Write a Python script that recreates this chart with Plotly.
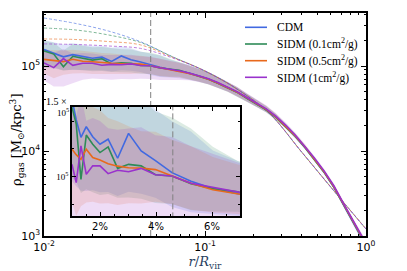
import plotly.graph_objects as go

# ---------------- data ----------------
r = [0.0100, 0.0115, 0.0132, 0.0151, 0.0174, 0.0200, 0.0229, 0.0263, 0.0302, 0.0347,
     0.0398, 0.0457, 0.0525, 0.0603, 0.0692, 0.0794, 0.0912, 0.105, 0.120, 0.138,
     0.158, 0.182, 0.209, 0.240, 0.275, 0.316, 0.363, 0.417, 0.479, 0.550,
     0.631, 0.724, 0.832, 0.955]

rho_cdm = [1.56e5, 1.41e5, 1.283e5, 1.36e5, 1.288e5, 1.234e5, 1.27e5, 1.133e5, 1.312e5, 1.186e5,
           1.116e5, 1.029e5, 0.967e5, 0.915e5, 0.877e5, 8.26e4, 7.66e4, 7.03e4, 6.31e4, 5.62e4,
           4.93e4, 4.19e4, 3.59e4, 3.07e4, 2.51e4, 1.97e4, 1.50e4, 1.11e4, 7.96e3, 5.61e3,
           3.76e3, 2.32e3, 1.43e3, 0.90e3]
rho_s01 = [1.50e5, 1.38e5, 0.98e5, 1.30e5, 1.234e5, 1.174e5, 1.215e5, 1.06e5, 1.089e5, 1.078e5,
           1.014e5, 1.005e5, 0.949e5, 0.914e5, 0.891e5, 8.20e4, 7.60e4, 6.98e4, 6.27e4, 5.60e4,
           4.92e4, 4.18e4, 3.58e4, 3.06e4, 2.50e4, 1.96e4, 1.50e4, 1.11e4, 7.98e3, 5.64e3,
           3.79e3, 2.35e3, 1.46e3, 0.92e3]
rho_s05 = [1.198e5, 1.159e5, 1.125e5, 1.198e5, 1.138e5, 1.120e5, 1.094e5, 1.076e5, 1.065e5, 1.062e5,
           1.051e5, 1.005e5, 0.953e5, 0.906e5, 0.871e5, 8.18e4, 7.62e4, 7.00e4, 6.30e4, 5.63e4,
           4.95e4, 4.21e4, 3.61e4, 3.09e4, 2.53e4, 1.98e4, 1.51e4, 1.12e4, 8.03e3, 5.68e3,
           3.82e3, 2.37e3, 1.47e3, 0.93e3]
rho_s1 = [1.089e5, 0.957e5, 1.222e5, 1.017e5, 1.078e5, 1.078e5, 1.022e5, 1.046e5, 1.036e5, 1.060e5,
          1.014e5, 1.005e5, 0.953e5, 0.920e5, 0.880e5, 8.28e4, 7.70e4, 7.08e4, 6.38e4, 5.70e4,
          5.00e4, 4.26e4, 3.66e4, 3.13e4, 2.57e4, 2.02e4, 1.54e4, 1.14e4, 8.20e3, 5.80e3,
          3.90e3, 2.42e3, 1.50e3, 0.95e3]

# relative scatter (upper / lower factors) of each model
hi_cdm = [1.30, 1.34, 1.40, 1.36, 1.38, 1.40, 1.36, 1.45, 1.30, 1.36, 1.33, 1.36, 1.37, 1.30, 1.27,
          1.25, 1.23, 1.21, 1.19, 1.17, 1.15, 1.13, 1.11, 1.10, 1.09, 1.08, 1.07, 1.06, 1.06, 1.05,
          1.05, 1.05, 1.06, 1.08]
lo_cdm = [0.62, 0.66, 0.70, 0.66, 0.70, 0.72, 0.70, 0.76, 0.68, 0.74, 0.76, 0.76, 0.77, 0.80, 0.82,
          0.84, 0.86, 0.87, 0.88, 0.89, 0.90, 0.91, 0.92, 0.93, 0.93, 0.94, 0.94, 0.95, 0.95, 0.95,
          0.95, 0.95, 0.94, 0.92]
hi_s01 = [1.32, 1.36, 1.55, 1.40, 1.40, 1.42, 1.38, 1.52, 1.45, 1.45, 1.45, 1.42, 1.42, 1.33, 1.25,
          1.24, 1.22, 1.20, 1.18, 1.16, 1.14, 1.12, 1.11, 1.10, 1.09, 1.08, 1.07, 1.06, 1.06, 1.05,
          1.05, 1.05, 1.06, 1.08]
lo_s01 = [0.66, 0.70, 0.90, 0.70, 0.72, 0.74, 0.72, 0.80, 0.78, 0.78, 0.80, 0.80, 0.80, 0.82, 0.84,
          0.85, 0.86, 0.87, 0.88, 0.89, 0.90, 0.91, 0.92, 0.93, 0.93, 0.94, 0.94, 0.95, 0.95, 0.95,
          0.95, 0.95, 0.94, 0.92]
hi_s05 = [1.30, 1.32, 1.35, 1.30, 1.32, 1.32, 1.30, 1.30, 1.28, 1.25, 1.26, 1.26, 1.28, 1.26, 1.25,
          1.24, 1.22, 1.20, 1.18, 1.16, 1.14, 1.12, 1.11, 1.10, 1.09, 1.08, 1.07, 1.06, 1.06, 1.05,
          1.05, 1.05, 1.06, 1.08]
lo_s05 = [0.68, 0.62, 0.70, 0.68, 0.72, 0.72, 0.74, 0.74, 0.76, 0.76, 0.78, 0.80, 0.80, 0.82, 0.84,
          0.85, 0.86, 0.87, 0.88, 0.89, 0.90, 0.91, 0.92, 0.93, 0.93, 0.94, 0.94, 0.95, 0.95, 0.95,
          0.95, 0.95, 0.94, 0.92]
hi_s1 = [1.40, 1.50, 1.30, 1.38, 1.32, 1.30, 1.32, 1.28, 1.30, 1.28, 1.28, 1.28, 1.28, 1.26, 1.24,
         1.23, 1.21, 1.19, 1.17, 1.15, 1.14, 1.12, 1.11, 1.10, 1.09, 1.08, 1.07, 1.07, 1.06, 1.06,
         1.06, 1.06, 1.07, 1.09]
lo_s1 = [0.62, 0.60, 0.47, 0.62, 0.64, 0.66, 0.68, 0.66, 0.68, 0.66, 0.70, 0.70, 0.72, 0.74, 0.78,
         0.82, 0.84, 0.86, 0.87, 0.88, 0.89, 0.90, 0.91, 0.92, 0.93, 0.93, 0.94, 0.94, 0.95, 0.95,
         0.95, 0.95, 0.94, 0.92]

# fitted (dotted) profiles
r_fit = [0.01, 0.0158, 0.0251, 0.0398, 0.0631, 0.1, 0.158, 0.251, 0.398, 0.631, 1.0]
fit_cdm = [3.67e5, 3.16e5, 2.58e5, 1.93e5, 1.28e5, 8.73e4, 5.36e4, 2.77e4, 9.75e3, 3.41e3, 1.21e3]
fit_s01 = [2.80e5, 2.65e5, 2.32e5, 1.89e5, 1.28e5, 8.73e4, 5.36e4, 2.77e4, 9.75e3, 3.41e3, 1.21e3]
fit_s05 = [2.08e5, 2.05e5, 1.94e5, 1.77e5, 1.26e5, 8.73e4, 5.36e4, 2.77e4, 9.75e3, 3.41e3, 1.21e3]
fit_s1 = [1.82e5, 1.79e5, 1.72e5, 1.61e5, 1.24e5, 8.73e4, 5.36e4, 2.77e4, 9.75e3, 3.41e3, 1.21e3]

r_mark = 0.046

labels = ["CDM", "SIDM (0.1cm<sup>2</sup>/g)", "SIDM (0.5cm<sup>2</sup>/g)", "SIDM (1cm<sup>2</sup>/g)"]
colors = ["#4169e1", "#2e8b57", "#e8691c", "#9932cc"]
fills = ["rgba(65,105,225,0.17)", "rgba(46,139,87,0.17)", "rgba(232,105,28,0.15)", "rgba(153,50,204,0.17)"]

series = [rho_cdm, rho_s01, rho_s05, rho_s1]
his = [hi_cdm, hi_s01, hi_s05, hi_s1]
los = [lo_cdm, lo_s01, lo_s05, lo_s1]
fits = [fit_cdm, fit_s01, fit_s05, fit_s1]

# ---------------- figure ----------------
OFF = 8                      # page body margin
W, H = 407 - OFF, 271 - OFF
L, R, T, B = 44, 366, 13, 236   # plot area in screenshot pixels
pw, ph = R - L, B - T

def px(x):
    return (x - L) / pw

def py(y):
    return (B - y) / ph

# inset box in screenshot pixels
IL, IR, IT, IB = 72, 240, 107, 216
y_main_top = 10 ** (3 + (B - T) / 85)
y_inset_top = 10 ** (3 + (B - IT) / 85)
y_inset_bot = 10 ** (3 + (B - IB) / 85)

fig = go.Figure()

for sub in [("x", "y"), ("x2", "y2")]:
    xa, ya = sub
    for vals, hi, lo, fc in zip(series, his, los, fills):
        up = [v * h for v, h in zip(vals, hi)]
        dn = [v * l for v, l in zip(vals, lo)]
        fig.add_trace(go.Scatter(x=r + r[::-1], y=up + dn[::-1], fill="toself",
                                 fillcolor=fc, line=dict(width=0), mode="lines",
                                 hoverinfo="skip", showlegend=False, xaxis=xa, yaxis=ya))
    if xa == "x":
        for fv, c in zip(fits, colors):
            fig.add_trace(go.Scatter(x=r_fit, y=fv, mode="lines", line=dict(color=c, width=1, dash="3px,2px", shape="spline"),
                                     opacity=0.6, showlegend=False, xaxis=xa, yaxis=ya))
    for vals, c in zip(series, colors):
        fig.add_trace(go.Scatter(x=r, y=vals, mode="lines", line=dict(color=c, width=1.6),
                                 showlegend=False, xaxis=xa, yaxis=ya))
    if xa == "x":
        # main marker line: hidden behind the inset
        for seg in ([1e3, y_inset_bot], [y_inset_top, y_main_top * 1.05]):
            fig.add_trace(go.Scatter(x=[r_mark, r_mark], y=seg, mode="lines",
                                     line=dict(color="#808080", width=1, dash="6px,3px"),
                                     showlegend=False, xaxis=xa, yaxis=ya))
    else:
        fig.add_trace(go.Scatter(x=[r_mark, r_mark], y=[0.7e5, 1.51e5], mode="lines",
                                 line=dict(color="#808080", width=1, dash="6px,3px"),
                                 showlegend=False, xaxis=xa, yaxis=ya))

tickfont = dict(family="DejaVu Sans", size=11, color="black")
serif = "Liberation Serif"

def dec_minor(decs, mults):
    return [m * d for d in decs for m in mults]

fig.update_layout(
    width=W, height=H,
    margin=dict(l=L - OFF, r=407 - R, t=T - OFF, b=271 - B, pad=0, autoexpand=False),
    paper_bgcolor="white", plot_bgcolor="white",
    showlegend=False,
    xaxis=dict(type="log", range=[-2, 0], domain=[0, 1], anchor="y", automargin=False,
               showline=True, linecolor="black", linewidth=1.5, mirror="allticks",
               ticks="inside", ticklen=5, tickwidth=1, tickcolor="black",
               tickvals=[0.01, 0.1, 1], ticktext=["10<sup>-2</sup>", "10<sup>-1</sup>", "10<sup>0</sup>"],
               minor=dict(ticks="inside", ticklen=2.5, tickwidth=0.8, tickcolor="black",
                          tickvals=dec_minor([0.01, 0.1], [2, 3, 4, 5, 6, 7, 8, 9])),
               showgrid=False, zeroline=False, tickfont=tickfont,
               title=dict(text="<i>r</i>/<i>R</i><sub>vir</sub>", font=dict(family="DejaVu Serif", size=13), standoff=1)),
    yaxis=dict(type="log", range=[3, 3 + (B - T) / 85], domain=[0, 1], anchor="x", automargin=False,
               showline=True, linecolor="black", linewidth=1.5, mirror="allticks",
               ticks="inside", ticklen=5, tickwidth=1, tickcolor="black",
               tickvals=[1e3, 1e4, 1e5], ticktext=["10<sup>3</sup>", "10<sup>4</sup>", "10<sup>5</sup>"],
               minor=dict(ticks="inside", ticklen=2.5, tickwidth=0.8, tickcolor="black",
                          tickvals=dec_minor([1e3, 1e4], [2, 3, 4, 5, 6, 7, 8, 9]) + [2e5, 3e5, 4e5]),
               showgrid=False, zeroline=False, tickfont=tickfont),
    xaxis2=dict(range=[0.01, 0.07], domain=[px(IL), px(IR)], anchor="y2", automargin=False,
                showline=True, linecolor="black", linewidth=1.5, mirror="allticks",
                ticks="inside", ticklen=4, tickwidth=1, tickcolor="black",
                tickvals=[0.02, 0.04, 0.06], ticktext=["2%", "4%", "6%"],
                minor=dict(ticks="inside", ticklen=2, tickwidth=0.8, tickcolor="black", dtick=0.005, tick0=0.0),
                showgrid=False, zeroline=False, tickfont=dict(family="DejaVu Sans", size=10, color="black")),
    yaxis2=dict(range=[0.717e5, 1.502e5], domain=[py(IB), py(IT)], anchor="x2", automargin=False,
                showline=True, linecolor="black", linewidth=1.5, mirror="allticks",
                ticks="inside", ticklen=4, tickwidth=1, tickcolor="black",
                tickvals=[1e5, 1.5e5], ticktext=["10<sup>5</sup>", ""],
                minor=dict(ticks="inside", ticklen=2, tickwidth=0.8, tickcolor="black",
                           tickvals=[0.8e5, 1.2e5, 1.4e5]),
                showgrid=False, zeroline=False, tickfont=dict(family=serif, size=9, color="black")),
)

# y-axis title
fig.add_annotation(text="ρ<sub>gas</sub> [M<sub>⊙</sub>/kpc<sup>3</sup>]", xref="paper", yref="paper",
                   x=px(17), y=py(140), textangle=-90, showarrow=False,
                   font=dict(family="DejaVu Serif", size=13, color="black"),
                   xanchor="center", yanchor="middle")

# offset text of inset y-axis and its top label
fig.add_annotation(text="1.5 ×", xref="paper", yref="paper", x=px(56), y=py(101),
                   showarrow=False, font=dict(family=serif, size=10, color="black"),
                   xanchor="center", yanchor="middle")
fig.add_annotation(text="10<sup>5</sup>", xref="paper", yref="paper", x=px(71), y=py(112),
                   showarrow=False, font=dict(family=serif, size=9, color="black"),
                   xanchor="right", yanchor="middle")

# legend (drawn manually)
leg_y = [27.3, 44, 60.7, 77.3]
for lab, c, yy in zip(labels, colors, leg_y):
    fig.add_shape(type="line", xref="paper", yref="paper", x0=px(245), x1=px(267), y0=py(yy), y1=py(yy),
                  line=dict(color=c, width=1.6), layer="above")
    fig.add_annotation(text=lab, xref="paper", yref="paper", x=px(275), y=py(yy),
                       showarrow=False, xanchor="left", yanchor="middle",
                       font=dict(family=serif, size=11.5, color="black"))

fig.write_html("out.html")
